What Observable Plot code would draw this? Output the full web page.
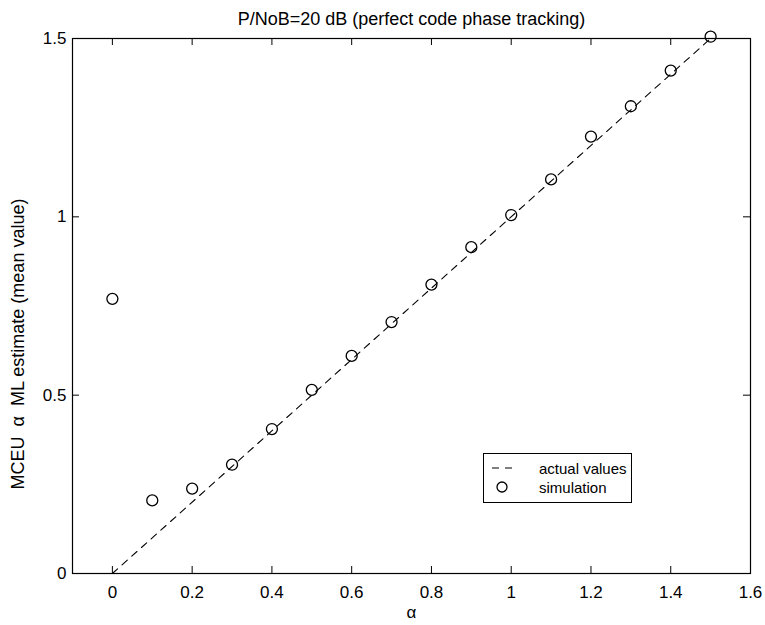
<!DOCTYPE html>
<html>
<head>
<meta charset="utf-8">
<script src="https://cdn.jsdelivr.net/npm/d3@7"></script>
<script src="https://cdn.jsdelivr.net/npm/@observablehq/plot@0.6"></script>
<style>
  html, body { margin: 0; padding: 0; background: #fff; }
  #wrap { position: relative; width: 765px; height: 625px; font-family: "Liberation Sans", Arial, sans-serif; }
  #legend { position: absolute; left: 483px; top: 453px; width: 147px; height: 48px; border: 1px solid #000; background: #fff; font-size: 15px; }
  #legend .row { position: absolute; left: 6px; height: 20px; display: flex; align-items: center; }
  #legend .row span { margin-left: 19px; }
</style>
</head>
<body>
<div id="wrap"></div>
<script>
const titleText = "P/NoB=20 dB (perfect code phase tracking)";
const xLabel = "α";
const yLabel = "MCEU  α  ML estimate (mean value)";
const simAlpha = [0, 0.1, 0.2, 0.3, 0.4, 0.5, 0.6, 0.7, 0.8, 0.9, 1.0, 1.1, 1.2, 1.3, 1.4, 1.5];
const simMean  = [0.77, 0.205, 0.238, 0.305, 0.405, 0.515, 0.61, 0.705, 0.81, 0.915, 1.005, 1.105, 1.225, 1.31, 1.41, 1.505];
const actualAlpha = [0, 1.5];
const actualValue = [0, 1.5];
const xTicks = [0, 0.2, 0.4, 0.6, 0.8, 1, 1.2, 1.4, 1.6];
const xTickLabels = ["0", "0.2", "0.4", "0.6", "0.8", "1", "1.2", "1.4", "1.6"];
const yTicks = [0, 0.5, 1, 1.5];
const yTickLabels = ["0", "0.5", "1", "1.5"];
const legendLabels = ["actual values", "simulation"];

const W = 765, H = 625, mL = 72, mR = 15, mT = 38, mB = 52;
const innerW = W - mL - mR, innerH = H - mT - mB;
const tl = 7;

const sim = simAlpha.map((a, i) => ({a, m: simMean[i]}));
const actual = actualAlpha.map((a, i) => ({a, m: actualValue[i]}));

const chart = Plot.plot({
  width: W, height: H,
  marginLeft: mL, marginRight: mR, marginTop: mT, marginBottom: mB,
  style: {fontFamily: "'Liberation Sans', Arial, sans-serif", fontSize: "16px", color: "#000", background: "#fff"},
  x: {domain: [-0.1, 1.6]},
  y: {domain: [0, 1.5]},
  marks: [
    Plot.line(actual, {x: "a", y: "m", stroke: "#000", strokeWidth: 1.1, strokeDasharray: "7,6"}),
    Plot.dot(sim, {x: "a", y: "m", r: 5.5, stroke: "#000", strokeWidth: 1.3, fill: "none"}),
    Plot.tickX(xTicks, {x: d => d, insetTop: innerH - tl, stroke: "#000"}),
    Plot.tickX(xTicks, {x: d => d, insetBottom: innerH - tl, stroke: "#000"}),
    Plot.tickY(yTicks, {y: d => d, insetRight: innerW - tl, stroke: "#000"}),
    Plot.tickY(yTicks, {y: d => d, insetLeft: innerW - tl, stroke: "#000"}),
    Plot.frame({stroke: "#000", strokeWidth: 1.2}),
    Plot.axisX({ticks: xTicks, tickFormat: (d, i) => xTickLabels[i], tickSize: 0, tickPadding: 12, fontSize: 17,
      label: xLabel, labelAnchor: "center", labelOffset: 44, labelArrow: "none"}),
    Plot.axisY({ticks: yTicks, tickFormat: (d, i) => yTickLabels[i], tickSize: 0, tickPadding: 6, fontSize: 17,
      label: null}),
    Plot.text([yLabel], {frameAnchor: "left", textAnchor: "middle", rotate: -90, dx: -54, dy: 38, fontSize: 18, text: d => d}),
    Plot.text([titleText], {frameAnchor: "top", dy: -26, fontSize: 18, text: d => d})
  ]
});

const wrap = document.getElementById("wrap");
wrap.appendChild(chart);

const legend = document.createElement("div");
legend.id = "legend";
legend.innerHTML = `
  <div class="row" style="top:4px"><svg width="30" height="12"><line x1="2" y1="6" x2="28" y2="6" stroke="#000" stroke-width="1.1" stroke-dasharray="7,6"/></svg><span>${legendLabels[0]}</span></div>
  <div class="row" style="top:23px"><svg width="30" height="12"><circle cx="12" cy="6" r="5" fill="none" stroke="#000" stroke-width="1.3"/></svg><span>${legendLabels[1]}</span></div>`;
wrap.appendChild(legend);
</script>
</body>
</html>
